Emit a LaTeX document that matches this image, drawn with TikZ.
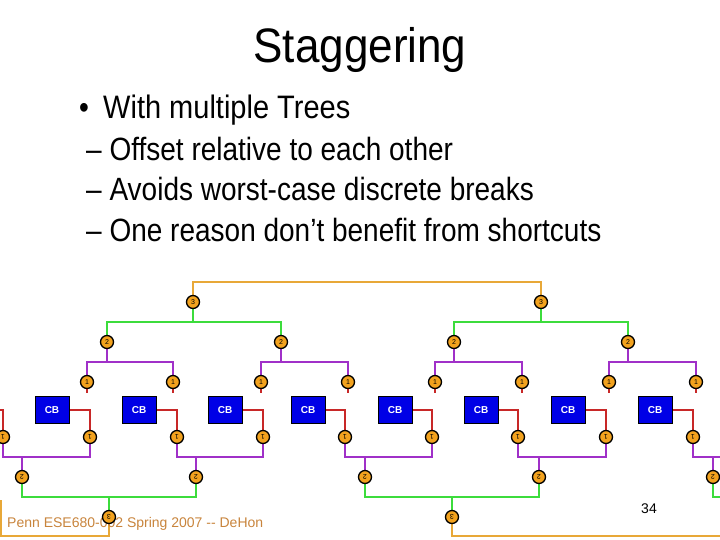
\documentclass[tikz,border=0pt]{standalone}
\usepackage{fontspec}
\setmainfont{Liberation Sans}
\usepackage{xcolor}
\usepackage{tikz}
\usetikzlibrary{positioning, backgrounds}
\definecolor{wireorange}{HTML}{E8A838}
\definecolor{wiregreen}{HTML}{3CDC3C}
\definecolor{wirepurple}{HTML}{A030C8}
\definecolor{wirered}{HTML}{C82828}
\definecolor{nodeorange}{HTML}{F2A21E}
\definecolor{cbblue}{HTML}{0000E6}
\definecolor{footbrown}{HTML}{C8843C}
\tikzstyle{tnode} = [circle, minimum size=13pt, inner sep=0pt, fill=nodeorange, draw=black,
  line width=1.3pt, font=\fontsize{7}{7}\selectfont]
\tikzstyle{cbbox} = [rectangle, minimum width=34pt, minimum height=27pt, inner sep=0pt,
  fill=cbblue, draw=black, line width=0.8pt, text=white, font=\fontsize{10}{10}\selectfont\bfseries]
\tikzstyle{wire} = [line width=2pt]
\tikzstyle{slidetext} = [inner sep=0pt, anchor=base west, font=\fontsize{28}{28}\selectfont]

\begin{document}
\begin{tikzpicture}[x=1pt, y=-1pt]
  \useasboundingbox (0,0) rectangle (720,540);
  \clip (0,0) rectangle (720,540);

  % slide text
  \node (title) [inner sep=0pt, anchor=base, font=\fontsize{44}{44}\selectfont] at (360,63)
    {\scalebox{1}[1.1]{Staggering}};
  \node (bul) [slidetext] at (79,119) {\scalebox{1}[1.15]{•}};
  \node (b1) [slidetext, font=\fontsize{29}{29}\selectfont] at (103,119)
    {\scalebox{1}[1.12]{With multiple Trees}};
  \node (s1) [slidetext] at (86,161) {\scalebox{1}[1.15]{– Offset relative to each other}};
  \node (s2) [slidetext] at (86,201) {\scalebox{1}[1.15]{– Avoids worst-case discrete breaks}};
  \node (s3) [slidetext] at (86,241) {\scalebox{1}[1.15]{– One reason don’t benefit from shortcuts}};
  \node (foot) [inner sep=0pt, anchor=base west, text=footbrown, font=\fontsize{14}{14}\selectfont]
    at (7,527) {Penn ESE680-002 Spring 2007 -{}- DeHon};
  \node (pnum) [inner sep=0pt, anchor=base, font=\fontsize{14}{14}\selectfont] at (649,513) {34};

  % upper tree
  \foreach \x [count=\i] in {87,173,261,348,435,522,609,696}
    \node (ua\i) [tnode] at (\x,382) {1};
  \foreach \x [count=\i] in {107,281,454,628}
    \node (ub\i) [tnode] at (\x,342) {2};
  \node (uc1) [tnode] at (193,302) {3};
  \node (uc2) [tnode] at (541,302) {3};

  % lower tree (upside down)
  \foreach \x [count=\i] in {3,90,177,263,345,432,518,606,693}
    \node (la\i) [tnode] at (\x,437) {\rotatebox{180}{1}};
  \foreach \x [count=\i] in {22,196,365,539,713}
    \node (lb\i) [tnode] at (\x,477) {\rotatebox{180}{2}};
  \node (lc1) [tnode] at (109,517) {\rotatebox{180}{3}};
  \node (lc2) [tnode] at (452,517) {\rotatebox{180}{3}};

  % CB blocks
  \foreach \x [count=\i] in {52,139,225,308,395,481,568,655}
    \node (cb\i) [cbbox] at (\x,410) {CB};

  \coordinate (rL) at (-5,410);
  \coordinate (pR) at (725,457);
  \coordinate (gR) at (725,497);
  \coordinate (oL) at (1,500);
  \coordinate (oR) at (725,536);

  \begin{pgfonlayer}{background}
    % upper wires
    \foreach \i in {1,...,8}
      \draw[wire, wirered] (ua\i.center) -- ++(0,11);
    \foreach \a/\p in {1/1,2/1,3/2,4/2,5/3,6/3,7/4,8/4}
      \draw[wire, wirepurple] (ua\a.center) -- ++(0,-20) -| (ub\p.center);
    \foreach \a/\p in {1/1,2/1,3/2,4/2}
      \draw[wire, wiregreen] (ub\a.center) -- ++(0,-20) -| (uc\p.center);
    \draw[wire, wireorange] (uc1.center) -- ++(0,-20) -| (uc2.center);

    % lower wires
    \draw[wire, wirered] (rL) -| (la1.center);
    \foreach \i [evaluate=\i as \j using int(\i+1)] in {1,...,8}
      \draw[wire, wirered] (cb\i.east) -| (la\j.center);
    \foreach \a/\p in {1/1,2/1,3/2,4/2,5/3,6/3,7/4,8/4}
      \draw[wire, wirepurple] (la\a.center) -- ++(0,20) -| (lb\p.center);
    \draw[wire, wirepurple] (la9.center) -- ++(0,20) -- (pR);
    \draw[wire, wirepurple] (lb5.center) -- ++(0,-20);
    \foreach \a/\p in {1/1,2/1,3/2,4/2}
      \draw[wire, wiregreen] (lb\a.center) -- ++(0,20) -| (lc\p.center);
    \draw[wire, wiregreen] (lb5.center) -- ++(0,20) -- (gR);
    \draw[wire, wireorange] (lc1.center) -- ++(0,19) -| (oL);
    \draw[wire, wireorange] (lc2.center) -- ++(0,19) -- (oR);
  \end{pgfonlayer}
\end{tikzpicture}
\end{document}
